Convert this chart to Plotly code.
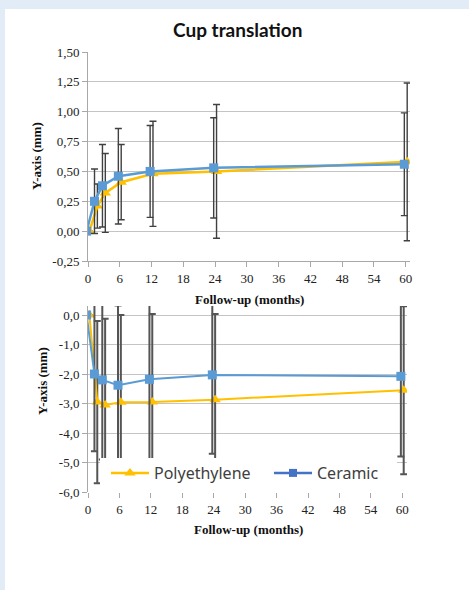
import plotly.graph_objects as go

# Follow-up time points (months)
months = [0, 1.5, 3, 6, 12, 24, 60]
x_ticks = [0, 6, 12, 18, 24, 30, 36, 42, 48, 54, 60]

# Upper panel: mean translation (mm) and standard deviation
pe_upper = [0.0, 0.21, 0.32, 0.41, 0.48, 0.50, 0.58]
pe_upper_sd = [0.0, 0.185, 0.33, 0.315, 0.44, 0.56, 0.66]
cer_upper = [0.0, 0.25, 0.38, 0.46, 0.50, 0.53, 0.56]
cer_upper_sd = [0.0, 0.27, 0.345, 0.40, 0.385, 0.42, 0.43]
upper_ticks = [-0.25, 0.0, 0.25, 0.5, 0.75, 1.0, 1.25, 1.5]
upper_labels = ["-0,25", "0,00", "0,25", "0,50", "0,75", "1,00", "1,25", "1,50"]

# Lower panel: mean translation (mm) and standard deviation
pe_lower = [0.0, -2.95, -3.05, -2.96, -2.95, -2.87, -2.55]
pe_lower_sd = [0.0, 2.75, 2.92, 2.96, 2.98, 2.90, 2.85]
cer_lower = [0.0, -2.00, -2.20, -2.38, -2.18, -2.03, -2.08]
cer_lower_sd = [0.0, 2.62, 2.70, 2.70, 2.70, 2.67, 2.72]
lower_ticks = [-6, -5, -4, -3, -2, -1, 0]
lower_labels = ["-6,0", "-5,0", "-4,0", "-3,0", "-2,0", "-1,0", "0,0"]

PE_COLOR = "#FFC000"
CER_COLOR = "#5B9BD5"
CER_LEGEND = "#4472C4"
GRID = "#C4C4C4"
SERIF = "Liberation Serif"
SANS = "Lato"

# small horizontal dodge so the two series' error bars do not overlap
DODGE = 0.27
x_pe = [m + DODGE for m in months]
x_cer = [m - DODGE for m in months]

fig = go.Figure()


def add_series(x, y, sd, color, symbol, size, lw, xa, ya, bar_color, bar_w):
    fig.add_trace(go.Scatter(
        x=x, y=y, mode="lines+markers", xaxis=xa, yaxis=ya, showlegend=False,
        line=dict(color=color, width=lw),
        marker=dict(color=color, symbol=symbol, size=size),
        error_y=dict(type="data", array=sd, visible=True,
                     color=bar_color, thickness=bar_w, width=3.5),
    ))


add_series(x_pe, pe_upper, pe_upper_sd, PE_COLOR, "triangle-up", 10, 2.5, "x", "y", "#404040", 1.4)
add_series(x_cer, cer_upper, cer_upper_sd, CER_COLOR, "square", 9, 2.5, "x", "y", "#404040", 1.4)
add_series(x_pe, pe_lower, pe_lower_sd, PE_COLOR, "triangle-up", 10, 2, "x2", "y2", "#555555", 2)
add_series(x_cer, cer_lower, cer_lower_sd, CER_COLOR, "square", 9, 2, "x2", "y2", "#555555", 2)

# legend entries (each in its own legend box so they can be placed independently)
fig.add_trace(go.Scatter(x=[None], y=[None], mode="lines+markers", name="Polyethylene",
                         xaxis="x2", yaxis="y2", legend="legend",
                         line=dict(color=PE_COLOR, width=2.5),
                         marker=dict(color=PE_COLOR, symbol="triangle-up", size=10)))
fig.add_trace(go.Scatter(x=[None], y=[None], mode="lines+markers", name="Ceramic",
                         xaxis="x2", yaxis="y2", legend="legend2",
                         line=dict(color=CER_LEGEND, width=2.5),
                         marker=dict(color=CER_LEGEND, symbol="square", size=8)))

L, W, T, B, H = 88, 322, 52, 98, 440


def px_x(p):
    return (p - L) / W


def px_y(p):
    return (590 - B - p) / H


tick_font = dict(family=SERIF, size=13, color="#222222")
axis_common = dict(showgrid=False, zeroline=False, showline=True, linecolor="#A8A8A8",
                   linewidth=1, ticks="outside", ticklen=5, tickcolor="#A8A8A8",
                   tickfont=tick_font, fixedrange=True)


def label(text, x, y, font, angle=0):
    return dict(text=text, x=px_x(x), y=px_y(y), xref="paper", yref="paper",
                xanchor="center", yanchor="middle", showarrow=False,
                textangle=angle, font=font)


def legend_box(x):
    return dict(orientation="h", x=px_x(x), y=px_y(473), xanchor="left", yanchor="middle",
                bgcolor="rgba(0,0,0,0)", itemwidth=38,
                font=dict(family="Noto Sans", size=16, color="#404040"))


title_font = dict(family=SERIF, size=13, color="#111111")

fig.update_layout(
    width=469, height=590,
    margin=dict(l=L, r=469 - L - W, t=T, b=B),
    paper_bgcolor="#E2ECF6", plot_bgcolor="white",
    xaxis=dict(domain=[0, 1], range=[0, 60.8], tickvals=x_ticks, anchor="y", **axis_common),
    yaxis=dict(domain=[px_y(261), 1], range=[-0.25, 1.5], tickvals=upper_ticks,
               ticktext=upper_labels, anchor="x", **{**axis_common, "showgrid": True,
                                                       "gridcolor": GRID}),
    xaxis2=dict(domain=[0, px_x(407)], range=[0, 60.9], tickvals=x_ticks, anchor="y2",
                **{**axis_common, "showline": False}),
    yaxis2=dict(domain=[0, px_y(306)], range=[-6, 0.305], tickvals=lower_ticks,
                ticktext=lower_labels, anchor="x2", **{**axis_common, "showgrid": True,
                                                        "gridcolor": GRID}),
    legend=legend_box(106),
    legend2=legend_box(269),
    shapes=[
        # white card behind the chart
        dict(type="rect", xref="paper", yref="paper", layer="below",
             x0=px_x(5), x1=px_x(470), y0=px_y(591), y1=px_y(9),
             fillcolor="white", line=dict(width=0)),
        # legend box background
        dict(type="rect", xref="paper", yref="paper", layer="above",
             x0=px_x(100), x1=px_x(397), y0=px_y(493), y1=px_y(458),
             fillcolor="white", line=dict(width=0)),
    ],
    annotations=[
        label("<b>Cup translation</b>", 237, 29, dict(family=SANS, size=19, color="#111111")),
        label("<b>Follow-up (months)</b>", 249, 299, title_font),
        label("<b>Follow-up (months)</b>", 248, 529, title_font),
        label("<b>Y-axis (mm)</b>", 36, 156, title_font, -90),
        label("<b>Y-axis (mm)</b>", 42, 381, title_font, -90),
    ],
)

fig.write_html("out.html")
